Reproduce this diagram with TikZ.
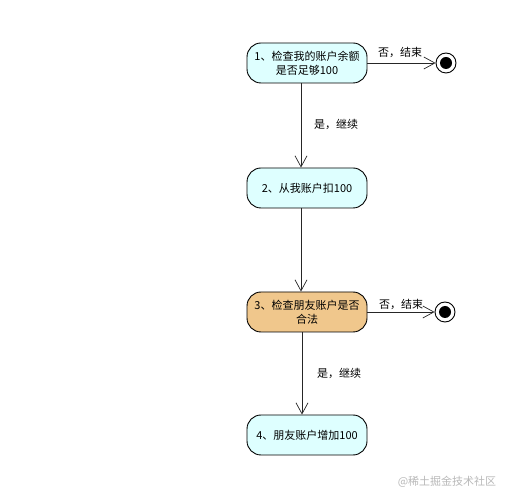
\documentclass[tikz,border=0pt]{standalone}
\usepackage{fontspec}
\setmainfont{Noto Sans CJK SC}
\usetikzlibrary{arrows.meta}
\definecolor{actionblue}{RGB}{222,255,255}
\definecolor{checkorange}{RGB}{240,199,140}

\begin{document}
\begin{tikzpicture}[x=1pt, y=-1pt,
    every node/.style={font=\fontsize{11}{14}\selectfont},
    action/.style={draw, line width=0.9pt, rounded corners=14pt, fill=actionblue,
        minimum width=120pt, minimum height=40pt, align=center, inner sep=2pt},
    decision/.style={action, fill=checkorange},
    final/.style={circle, draw, line width=0.9pt, fill=white, minimum size=20pt, inner sep=0pt},
    arrow/.style={-{Straight Barb[length=11pt, width=12pt]}, line width=0.7pt, black!85}
]
\useasboundingbox (0,0) rectangle (509,502);

\node[action]   (a1) at (307,63)  {1、检查我的账户余额\\是否足够100};
\node[action]   (a2) at (307,188) {2、从我账户扣100};
\node[decision] (a3) at (307,312) {3、检查朋友账户是否\\合法};
\node[action]   (a4) at (307,435) {4、朋友账户增加100};

\node[final] (end1) at (446,63) {};
\fill (end1.center) circle (6);
\node[final] (end2) at (445,312) {};
\fill (end2.center) circle (6);

\draw[arrow] ([xshift=-6pt]a1.south) -- ([xshift=-6pt]a2.north);
\draw[arrow] ([xshift=-6pt]a2.south) -- ([xshift=-6pt]a3.north);
\draw[arrow] ([xshift=-5pt]a3.south) -- ([xshift=-5pt]a4.north);
\draw[arrow] (a1.east) -- (end1.west);
\draw[arrow] (a3.east) -- (end2.west);

\node (no1)  at (400,52)  {否，结束};
\node (yes1) at (336,124) {是，继续};
\node (no2)  at (401,304) {否，结束};
\node (yes2) at (339,373) {是，继续};

\node[text=black!28] (mark) at (447,482) {@稀土掘金技术社区};
\end{tikzpicture}
\end{document}
